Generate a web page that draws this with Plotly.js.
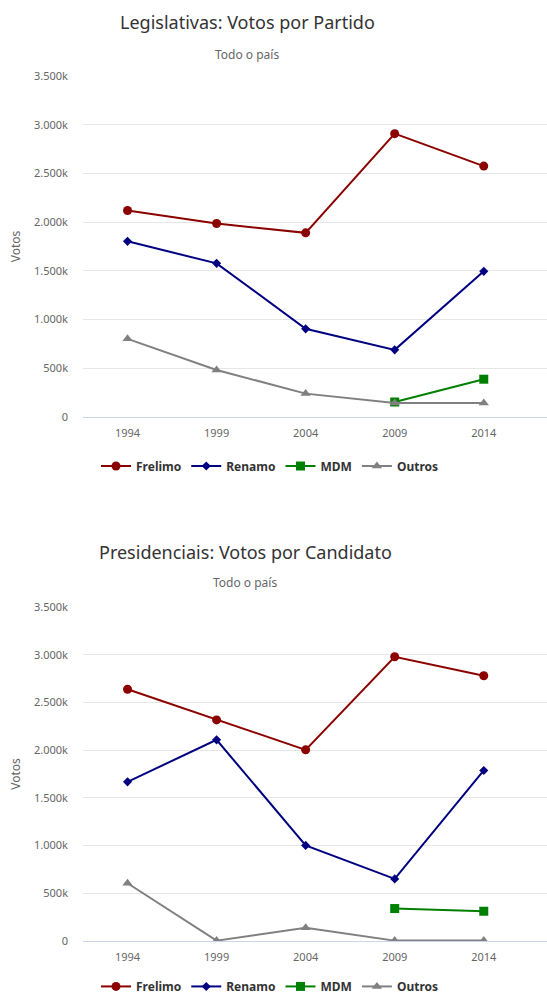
<!DOCTYPE html>
<html>
<head>
<meta charset="utf-8">
<script src="https://cdn.plot.ly/plotly-3.0.1.min.js"></script>
<style>
html,body{margin:0;padding:0;background:#fff;overflow:hidden;width:547px;height:996px;}
#c1{position:absolute;left:0;top:0;width:547px;height:500px;}
#c2{position:absolute;left:0;top:500px;width:547px;height:520px;}
</style>
</head>
<body>
<div id="c1"></div>
<div id="c2"></div>
<script>
// ---- data ----
var years = ["1994", "1999", "2004", "2009", "2014"];
var yTickVals = [0, 500000, 1000000, 1500000, 2000000, 2500000, 3000000, 3500000];
var yTickText = ["0", "500k", "1.000k", "1.500k", "2.000k", "2.500k", "3.000k", "3.500k"];
var seriesNames = ["Frelimo", "Renamo", "MDM", "Outros"];

// Legislativas
var legFrelimo = [2119000, 1986000, 1890000, 2908000, 2575000];
var legRenamo  = [1803000, 1577000, 905000, 689000, 1495000];
var legMDM     = [null, null, null, 154000, 388000];
var legOutros  = [802000, 483000, 240000, 144000, 144000];

// Presidenciais
var preFrelimo = [2638000, 2317000, 2003000, 2979000, 2780000];
var preRenamo  = [1668000, 2108000, 1002000, 651000, 1787000];
var preMDM     = [null, null, null, 340000, 312000];
var preOutros  = [605000, 4000, 138000, 4000, 4000];

var colors = ["#8b0000", "#000080", "#008000", "#808080"];
var symbols = ["circle", "diamond", "square", "triangle-up"];
var msizes = [9, 7, 9, 9];
var FONT = "Noto Sans, DejaVu Sans, sans-serif";

function makeTraces(vals) {
  return vals.map(function (v, i) {
    return {
      x: years, y: v, name: seriesNames[i], type: "scatter", mode: "lines+markers",
      line: {color: colors[i], width: 2},
      marker: {color: colors[i], symbol: symbols[i], size: msizes[i]},
      connectgaps: false, hoverinfo: "none"
    };
  });
}

function makeLayout(g, title, subtitle) {
  var plotH = g.bottom - g.top;
  var plotW = 547 - g.left;
  function py(px) { return (g.bottom - px) / plotH; }
  function pxx(px) { return (px - g.left) / plotW; }
  return {
    width: 547, height: g.h,
    margin: {l: g.left, r: 0, t: g.top, b: g.h - g.bottom, pad: 0},
    paper_bgcolor: "#fff", plot_bgcolor: "#fff",
    font: {family: FONT, color: "#666"},
    showlegend: true,
    legend: {
      orientation: "h", x: pxx(g.legendX), xanchor: "center", y: py(g.legendY), yanchor: "middle",
      font: {family: FONT, size: 12, color: "#333", weight: "bold"},
      itemwidth: 30, tracegroupgap: 0
    },
    xaxis: {
      type: "category", range: [-0.5, 4.71], showgrid: false, zeroline: false,
      showline: true, linecolor: "#ccd6eb", linewidth: 1,
      ticks: "", tickfont: {size: 11, color: "#666", family: FONT}, ticklabelstandoff: 6,
      fixedrange: true
    },
    yaxis: {
      range: [0, 3500000], tickvals: yTickVals, ticktext: yTickText,
      showgrid: true, gridcolor: "#e6e6e6", gridwidth: 1, zeroline: false,
      tickfont: {size: 11, color: "#666", family: FONT}, ticks: "", ticklabelstandoff: 14,
      title: {text: "Votos", font: {size: 12, color: "#666", family: FONT}, standoff: 10},
      fixedrange: true
    },
    annotations: [
      {text: title, xref: "paper", yref: "paper", x: pxx(g.titleX), y: py(g.titleY),
       xanchor: "center", yanchor: "middle", showarrow: false,
       font: {family: FONT, size: 18, color: "#333"}},
      {text: subtitle, xref: "paper", yref: "paper", x: pxx(g.titleX), y: py(g.subY),
       xanchor: "center", yanchor: "middle", showarrow: false,
       font: {family: FONT, size: 12, color: "#666"}}
    ]
  };
}

var g1 = {h: 500, top: 76, bottom: 417, left: 83, titleX: 247, titleY: 22, subY: 54, legendY: 466, legendX: 270};
var g2 = {h: 520, top: 107, bottom: 441.5, left: 83, titleX: 245, titleY: 52, subY: 82, legendY: 487, legendX: 270};

Plotly.newPlot("c1", makeTraces([legFrelimo, legRenamo, legMDM, legOutros]),
  makeLayout(g1, "Legislativas: Votos por Partido", "Todo o país"), {staticPlot: true});
Plotly.newPlot("c2", makeTraces([preFrelimo, preRenamo, preMDM, preOutros]),
  makeLayout(g2, "Presidenciais: Votos por Candidato", "Todo o país"), {staticPlot: true});
</script>
</body>
</html>
